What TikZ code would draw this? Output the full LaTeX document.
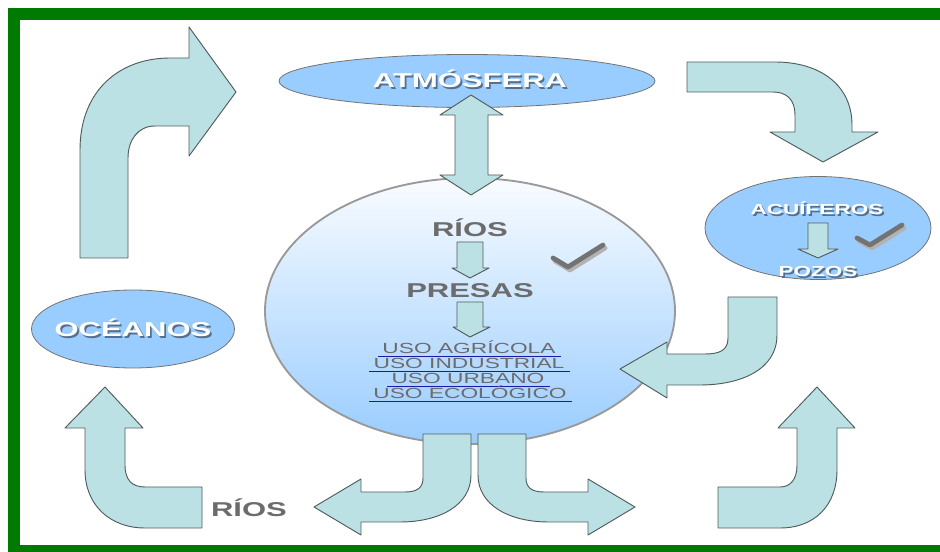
\documentclass[tikz,border=0pt]{standalone}
\usepackage{fontspec}
\newfontfamily\labelfont[FakeStretch=1.55]{Liberation Sans}
\usetikzlibrary{shapes.geometric}
\definecolor{framegreen}{RGB}{0,122,0}
\definecolor{skyblue}{RGB}{153,204,255}
\definecolor{arrowfill}{RGB}{187,225,228}
\definecolor{arrowline}{RGB}{80,92,92}
\definecolor{labelgray}{RGB}{108,108,108}
\definecolor{linkblue}{RGB}{25,25,170}
\colorlet{shadowblue}{black!45!skyblue}

\tikzset{
  waterbody/.style={ellipse, draw=black!55, line width=0.6pt, fill=skyblue, inner sep=0pt},
  blockarrow/.style={draw=arrowline, line width=0.7pt, fill=arrowfill, line join=round},
  whitetext/.style={text=white, anchor=base, inner sep=0pt, font=\labelfont\bfseries\fontsize{15}{18}\selectfont},
  smallwhite/.style={whitetext, font=\labelfont\bfseries\fontsize{10.9}{13}\selectfont},
  graytext/.style={text=labelgray, anchor=base, inner sep=0pt, font=\labelfont\bfseries\fontsize{15}{18}\selectfont},
  usotext/.style={text=labelgray, anchor=base, inner sep=0pt, font=\labelfont\fontsize{11}{13}\selectfont},
  tick/.style={draw=black!55, line width=3.6pt, line cap=round, line join=round}
}
% texto blanco con sombra
\newcommand{\glow}[1]{\makebox[0pt][l]{\hspace{1.3pt}\raisebox{-1.3pt}{\color{shadowblue}#1}}#1}
\newcommand{\usoline}[3]{%
  \node[usotext] (#1) at (#2) {#3};
  \draw[linkblue, line width=0.8pt] ([xshift=-3pt,yshift=-1.6pt]#1.base west) -- ([xshift=4pt,yshift=-1.6pt]#1.base east);}

\begin{document}
\begin{tikzpicture}[x=0.75pt, y=-0.75pt]
  \useasboundingbox (0,0) rectangle (940,552);
  % marco verde
  \fill[framegreen] (8,8) rectangle (940,20);
  \fill[framegreen] (8,8) rectangle (20,552);
  \fill[framegreen] (8,545) rectangle (940,552);

  % cuerpos de agua
  \node[ellipse, draw=black!40, line width=1.4pt, top color=skyblue!6, bottom color=skyblue,
        minimum width=307.5pt, minimum height=199.5pt, inner sep=0pt] (rio) at (470,311) {};
  \node[waterbody, minimum width=282pt, minimum height=39.75pt] (atm) at (467,81) {};
  \node[waterbody, minimum width=169.5pt, minimum height=77.25pt] (acu) at (818,228) {};
  \node[waterbody, minimum width=152.25pt, minimum height=58.5pt] (oce) at (133,329) {};

  % flechas grandes
  \draw[blockarrow] (471,95) -- (503,115) -- (488,115) -- (488,175) -- (503,175) -- (471,195)
    -- (440,175) -- (455,175) -- (455,115) -- (440,115) -- cycle;
  \draw[blockarrow] (80,258) -- (80,150) .. controls (80,90) and (120,58) .. (170,58) -- (189,58)
    -- (189,27) -- (236,92) -- (189,156) -- (189,126) -- (155,126)
    .. controls (138,126) and (128,140) .. (128,158) -- (128,258) -- cycle;
  \draw[blockarrow] (687,62) -- (775,62) .. controls (820,62) and (852,85) .. (852,125) -- (852,132)
    -- (878,132) -- (823,162) -- (770,132) -- (795,132) -- (795,115)
    .. controls (795,100) and (787,92) .. (773,92) -- (687,92) -- cycle;
  \draw[blockarrow] (728,297) -- (777,297) -- (777,335) .. controls (777,370) and (740,385) .. (700,385)
    -- (667,385) -- (667,398) -- (620,369) -- (667,342) -- (667,354) -- (705,354)
    .. controls (720,354) and (728,350) .. (728,338) -- cycle;
  \draw[blockarrow] (718,528) -- (780,528) .. controls (815,528) and (837,505) .. (837,470) -- (837,428)
    -- (855,428) -- (817,387) -- (778,428) -- (797,428) -- (797,465)
    .. controls (797,480) and (790,487) .. (780,487) -- (718,487) -- cycle;
  \draw[blockarrow] (202,487) -- (145,487) .. controls (132,487) and (125,480) .. (125,465) -- (125,428)
    -- (143,428) -- (105,387) -- (65,428) -- (85,428) -- (85,470)
    .. controls (85,505) and (110,528) .. (145,528) -- (202,528) -- cycle;
  \draw[blockarrow] (423,434) -- (471,434) -- (471,475) .. controls (471,505) and (440,522) .. (400,522)
    -- (361,522) -- (361,535) -- (314,507) -- (361,479) -- (361,492) -- (405,492)
    .. controls (418,492) and (423,487) .. (423,478) -- cycle;
  \draw[blockarrow] (526,434) -- (478,434) -- (478,475) .. controls (478,505) and (509,522) .. (549,522)
    -- (588,522) -- (588,535) -- (635,507) -- (588,479) -- (588,492) -- (544,492)
    .. controls (531,492) and (526,487) .. (526,478) -- cycle;

  % flechas pequenas
  \draw[blockarrow] (457,242) -- (483,242) -- (483,268) -- (489,268) -- (470,278) -- (452,268) -- (457,268) -- cycle;
  \draw[blockarrow] (457,302) -- (483,302) -- (483,327) -- (490,327) -- (470,337) -- (453,327) -- (457,327) -- cycle;
  \draw[blockarrow] (808,223) -- (828,223) -- (828,249) -- (838,249) -- (818,258) -- (798,249) -- (808,249) -- cycle;

  % palomitas
  \draw[tick, draw=black!30] (555,261) -- (570,270) -- (605,248);
  \draw[tick] (553,258) -- (568,267) -- (603,245);
  \draw[tick, draw=black!30] (859,241) -- (872,248) -- (904,228);
  \draw[tick] (857,238) -- (870,245) -- (902,225);

  % textos
  \node[whitetext] (atmt) at (470,88) {\glow{ATMÓSFERA}};
  \node[whitetext] (ocet) at (133,337) {\glow{OCÉANOS}};
  \node[smallwhite] (acut) at (817,215) {\glow{ACUÍFEROS}};
  \node[smallwhite] (poz) at (818,277) {\glow{POZOS}};
  \node[graytext] (riost) at (470,237) {RÍOS};
  \node[graytext] (presas) at (470,298) {PRESAS};
  \node[graytext] (riosb) at (249,517) {RÍOS};
  \usoline{uso1}{469,354}{USO AGRÍCOLA}
  \usoline{uso2}{469,369}{USO INDUSTRIAL}
  \usoline{uso3}{468,384}{USO URBANO}
  \usoline{uso4}{470,399}{USO ECOLÓGICO}
\end{tikzpicture}
\end{document}
